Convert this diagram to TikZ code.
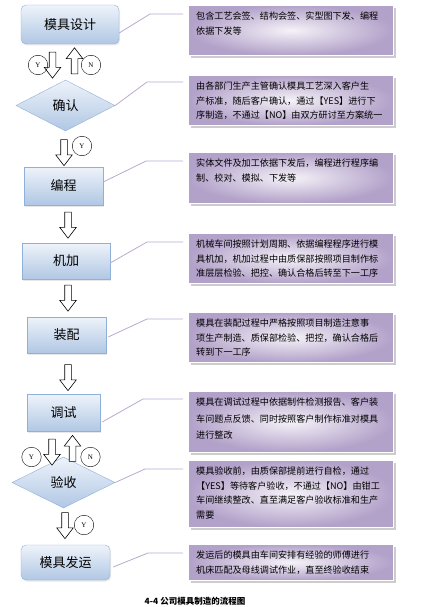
\documentclass[tikz,border=0pt]{standalone}
\usepackage{fontspec}
\setmainfont{Liberation Serif}
\newfontfamily\cjk{Noto Sans CJK SC}
\usetikzlibrary{shapes.geometric,shapes.arrows,shadows}

\definecolor{steptop}{HTML}{EEF3FA}
\definecolor{stepblue}{HTML}{B0C7E4}
\definecolor{stepline}{HTML}{8FB0D8}
\definecolor{notelight}{HTML}{F5F2F8}
\definecolor{notepurple}{HTML}{B2A1C9}
\definecolor{linkpurple}{HTML}{B9A9CE}

\newcommand{\notetext}[2]{\parbox[c][#1pt][t]{189pt}{\raggedright #2}}

\tikzset{
  stepbox/.style={draw=stepline, top color=steptop, bottom color=stepblue,
    inner sep=0pt, font=\cjk\fontsize{13}{13}\selectfont,
    drop shadow={shadow xshift=1pt, shadow yshift=-1.5pt, fill=black!18}},
  decision/.style={diamond, aspect=2, draw=stepline, top color=steptop,
    bottom color=stepblue, inner sep=0pt, font=\cjk\fontsize{13}{13}\selectfont},
  notebox/.style={draw=white, anchor=north west, inner xsep=8pt, inner ysep=7pt,
    inner color=notelight, outer color=notepurple,
    font=\cjk\fontsize{9.1}{14.5}\selectfont,
    drop shadow={shadow xshift=3pt, shadow yshift=-3pt, fill=black!40}},
  hollow/.style={single arrow, draw, fill=white, minimum height=26pt,
    inner sep=3pt, single arrow head extend=5pt, single arrow tip angle=75,
    line width=0.6pt},
  yn/.style={draw, circle, inner sep=0pt, minimum size=19.5pt,
    font=\fontsize{7}{7}\selectfont},
  link/.style={draw=linkpurple, line width=0.8pt}
}

\begin{document}
\begin{tikzpicture}[x=1pt, y=-1pt]
    \useasboundingbox (0,0) rectangle (421,607);

    % steps
    \node[stepbox, rounded corners=5pt, minimum width=98pt, minimum height=39pt] (design) at (70,24.5) {模具设计};
    \node[decision, minimum width=99pt, minimum height=51pt] (confirm) at (65.5,105.5) {确认};
    \node[stepbox, minimum width=79pt, minimum height=38pt] (program) at (63.5,186) {编程};
    \node[stepbox, minimum width=88pt, minimum height=36pt] (machine) at (66,261) {机加};
    \node[stepbox, minimum width=79pt, minimum height=36pt] (assembly) at (66.5,335) {装配};
    \node[stepbox, minimum width=73pt, minimum height=37pt] (debug) at (63.5,413) {调试};
    \node[decision, minimum width=103pt, minimum height=51pt] (accept) at (63.5,482.5) {验收};
    \node[stepbox, rounded corners=5pt, minimum width=89pt, minimum height=35pt] (ship) at (65.5,562.5) {模具发运};

    % notes
    \node[notebox] (note1) at (188,5) {\notetext{36}{包含工艺会签、结构会签、实型图下发、编程\\依据下发等}};
    \node[notebox] (note2) at (188,75) {\notetext{36}{由各部门生产主管确认模具工艺深入客户生\\产标准，随后客户确认，通过【YES】进行下\\序制造，不通过【NO】由双方研讨至方案统一}};
    \node[notebox] (note3) at (188,152) {\notetext{37}{实体文件及加工依据下发后，编程进行程序编\\制、校对、模拟、下发等}};
    \node[notebox] (note4) at (188,233) {\notetext{36}{机械车间按照计划周期、依据编程程序进行模\\具机加，机加过程中由质保部按照项目制作标\\准层层检验、把控、确认合格后转至下一工序}};
    \node[notebox] (note5) at (188,312) {\notetext{36}{模具在装配过程中严格按照项目制造注意事\\项生产制造、质保部检验、把控，确认合格后\\转到下一工序}};
    \node[notebox] (note6) at (188,391) {\notetext{47}{模具在调试过程中依据制件检测报告、客户装\\[2pt]车问题点反馈、同时按照客户制作标准对模具\\[2pt]进行整改}};
    \node[notebox] (note7) at (188,460) {\notetext{53}{模具验收前，由质保部提前进行自检，通过\\【YES】等待客户验收，不通过【NO】由钳工\\车间继续整改、直至满足客户验收标准和生产\\需要}};
    \node[notebox] (note8) at (188,544) {\notetext{22}{发运后的模具由车间安排有经验的师傅进行\\机床匹配及母线调试作业，直至终验收结束}};

    % links to the notes
    \draw[link] ([yshift=-8.5pt]design.east) -- ([xshift=-38pt,yshift=-9pt]note1.north west) -- ([xshift=-5pt,yshift=-9pt]note1.north west);
    \draw[link] (confirm.east) -- ([xshift=-41pt,yshift=-7pt]note2.north west) -- ([xshift=-5pt,yshift=-7pt]note2.north west);
    \draw[link] ([yshift=4pt]program.east) -- ([xshift=-42pt,yshift=-9pt]note3.north west) -- ([xshift=-5pt,yshift=-9pt]note3.north west);
    \draw[link] ([yshift=-2pt]machine.east) -- ([xshift=-41pt,yshift=-9pt]note4.north west) -- ([xshift=-5pt,yshift=-9pt]note4.north west);
    \draw[link] ([xshift=2pt,yshift=-2pt]assembly.east) -- ([xshift=-41pt,yshift=-7pt]note5.north west) -- ([xshift=-5pt,yshift=-7pt]note5.north west);
    \draw[link] ([xshift=2pt,yshift=-9pt]debug.east) -- ([xshift=-45pt,yshift=-8pt]note6.north west) -- ([xshift=-5pt,yshift=-8pt]note6.north west);
    \draw[link] (accept.east) -- ([xshift=-43pt,yshift=-9pt]note7.north west) -- ([xshift=-5pt,yshift=-9pt]note7.north west);
    \draw[link] ([xshift=3pt,yshift=-4.5pt]ship.east) -- ([xshift=-40pt,yshift=-9pt]note8.north west) -- ([xshift=-5pt,yshift=-9pt]note8.north west);

    % block arrows and Y/N marks
    \node[hollow, rotate=-90] (down1) at (52.5,63) {};
    \node[hollow, rotate=90] (up1) at (74.5,63) {};
    \node[yn] (yes1) at (38,65) {Y};
    \node[yn] (no1) at (91,65) {N};
    \node[hollow, rotate=-90] (down2) at (64,150.5) {};
    \node[yn] (yes2) at (82,146) {Y};
    \node[hollow, rotate=-90] (down3) at (68,223) {};
    \node[hollow, rotate=-90] (down4) at (68,296) {};
    \node[hollow, rotate=-90] (down5) at (68,375.5) {};
    \node[hollow, rotate=-90] (down6) at (52,450) {};
    \node[hollow, rotate=90] (up6) at (72.5,450.5) {};
    \node[yn] (yes6) at (31.5,457) {Y};
    \node[yn] (no6) at (90.5,457) {N};
    \node[hollow, rotate=-90] (down7) at (65,523.5) {};
    \node[yn] (yes7) at (84,525) {Y};

    \node[font=\bfseries\cjk\fontsize{8.5}{8.5}\selectfont] (caption) at (195,601) {4-4 公司模具制造的流程图};
\end{tikzpicture}
\end{document}
